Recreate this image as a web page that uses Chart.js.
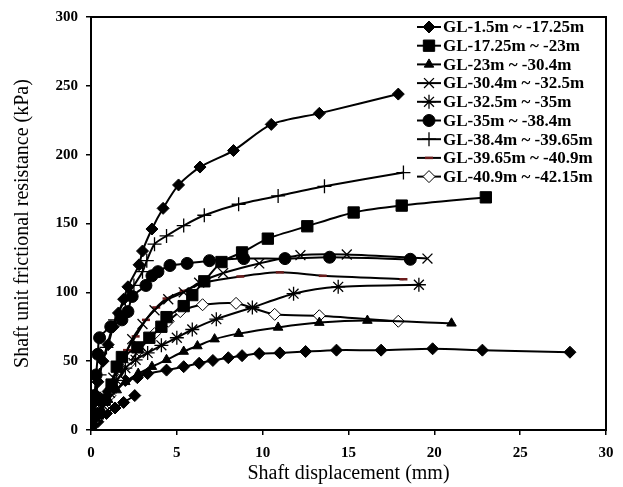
<!DOCTYPE html>
<html>
<head>
<meta charset="utf-8">
<script src="https://cdn.jsdelivr.net/npm/chart.js@4/dist/chart.umd.min.js"></script>
<style>
  html, body { margin: 0; padding: 0; background: #fff; }
  #wrap { width: 623px; height: 487px; }
</style>
</head>
<body>
<div id="wrap"><canvas id="chartCanvas" width="623" height="487"></canvas></div>
<script>
// legend names
const seriesNames = [
  'GL-1.5m ~ -17.25m',
  'GL-17.25m ~ -23m',
  'GL-23m ~ -30.4m',
  'GL-30.4m ~ -32.5m',
  'GL-32.5m ~ -35m',
  'GL-35m ~ -38.4m',
  'GL-38.4m ~ -39.65m',
  'GL-39.65m ~ -40.9m',
  'GL-40.9m ~ -42.15m'
];

// displacement (mm) / resistance (kPa) per series
const disp1 = [0, 0.2, 0.4, 0.7, 1.0, 1.3, 1.6, 1.9, 2.15, 2.8, 3.0, 3.55, 4.2, 5.1, 6.35, 8.3, 10.5, 13.3, 17.9];
const res1  = [5, 20, 35, 50, 62, 75, 85, 95, 104, 120, 130, 146, 161, 178, 191, 203, 222, 230, 244];

const disp2 = [0, 0.4, 0.8, 1.2, 1.5, 1.8, 2.7, 3.4, 4.1, 4.4, 5.4, 5.9, 6.6, 7.6, 8.8, 10.3, 12.6, 15.3, 18.1, 23.0];
const res2  = [3, 12, 22, 33, 46, 53, 60, 67, 75, 82, 90, 98, 108, 122, 129, 139, 148, 158, 163, 169];

const disp3 = [0, 0.3, 0.6, 1.0, 1.5, 2.0, 2.75, 3.55, 4.4, 5.4, 6.2, 7.2, 8.6, 10.9, 13.3, 16.1, 21.0];
const res3  = [2, 8, 15, 22, 29, 35, 41, 46, 51, 57, 61, 66, 70, 74.5, 78, 79.5, 77.5];

const disp4 = [0, 0.4, 0.8, 1.3, 1.9, 2.4, 3.0, 3.7, 4.5, 5.4, 6.3, 7.7, 9.8, 12.2, 14.9, 19.6];
const res4  = [3, 12, 24, 38, 52, 66, 77, 87, 95, 100, 107, 114, 121, 127, 127.5, 124.5];

const disp5 = [0, 0.3, 0.7, 1.1, 1.5, 2.0, 2.6, 3.3, 4.1, 5.0, 5.9, 7.3, 9.4, 11.8, 14.4, 19.1];
const res5  = [3, 10, 18, 27, 36, 45, 51, 56, 61.5, 67, 73, 80.5, 89, 99, 104, 105.5];

const disp6 = [0, 0.2, 0.3, 0.4, 0.5, 1.15, 1.8, 2.15, 2.4, 3.2, 3.55, 3.9, 4.6, 5.6, 6.9, 8.9, 11.3, 13.9, 18.6];
const res6  = [5, 25, 40, 55, 67, 75, 80, 86, 97, 105, 112, 115, 119.5, 121, 123, 124.5, 124.5, 125.5, 124];

const disp7 = [0, 0.2, 0.5, 0.9, 1.4, 2.0, 2.5, 3.0, 3.25, 3.7, 4.4, 5.4, 6.6, 8.6, 10.9, 13.6, 18.2];
const res7  = [5, 20, 40, 60, 80, 95, 105, 115, 123, 135, 141, 148.5, 156, 164, 170, 177, 187];

const disp8 = [0, 0.3, 0.7, 1.1, 1.6, 2.1, 2.6, 3.2, 3.8, 4.4, 5.4, 6.6, 8.7, 11.0, 13.5, 18.2];
const res8  = [2, 10, 20, 32, 45, 58, 68, 80, 89, 95.5, 101, 107, 111.5, 114.5, 112, 109.5];

const disp9 = [0, 0.3, 0.7, 1.1, 1.6, 2.2, 2.8, 3.7, 4.5, 5.2, 6.5, 8.45, 10.7, 13.3, 17.9];
const res9  = [2, 8, 16, 25, 36, 48, 58, 70, 79, 86, 91, 92, 84, 83, 79];

// two more curves drawn with diamonds but not listed in the legend
const disp10 = [0, 0.3, 0.6, 1.0, 1.5, 2.0, 2.7, 3.3, 4.4, 5.4, 6.3, 7.1, 8.0, 8.8, 9.8, 11.0, 12.5, 14.3, 16.9, 19.9, 22.8, 27.9];
const res10  = [0, 10, 20, 28, 33, 36, 38, 41, 43.5, 46, 48.5, 50.5, 52.5, 54, 55.5, 56, 57, 58, 58, 59, 58, 56.5];

const disp11 = [0, 0.4, 0.9, 1.4, 1.9, 2.55];
const res11  = [0, 6, 12, 16, 20, 25];

const pts = (xs, ys) => xs.map((x, i) => ({ x, y: ys[i] }));

const serif = "'Liberation Serif', 'Times New Roman', serif";

const mk = (label, xs, ys, style, radius, fill, extra) => Object.assign({
  label,
  data: pts(xs, ys),
  borderColor: '#000',
  borderWidth: 2,
  pointStyle: style,
  pointRadius: radius,
  pointHoverRadius: radius,
  pointBackgroundColor: fill,
  pointBorderColor: '#000',
  pointBorderWidth: 1,
  tension: 0.25,
  fill: false
}, extra || {});

const datasets = [
  mk(seriesNames[0], disp1, res1, 'rectRot', 6, '#000'),
  mk(seriesNames[1], disp2, res2, 'rect', 8, '#000'),
  mk(seriesNames[2], disp3, res3, 'triangle', 5.5, '#000'),
  mk(seriesNames[3], disp4, res4, 'crossRot', 7, '#000', { pointBorderWidth: 1.3 }),
  mk(seriesNames[4], disp5, res5, 'star', 7, '#000', { pointBorderWidth: 1.3 }),
  mk(seriesNames[5], disp6, res6, 'circle', 6, '#000'),
  mk(seriesNames[6], disp7, res7, 'cross', 7, '#000', { pointBorderWidth: 1.3 }),
  mk(seriesNames[7], disp8, res8, 'line', 4, '#6b1c1c', { pointBorderColor: '#6b1c1c', pointBorderWidth: 2.5 }),
  mk(seriesNames[8], disp9, res9, 'rectRot', 6, '#fff'),
  mk('', disp10, res10, 'rectRot', 6, '#000', { hideLegend: true }),
  mk('', disp11, res11, 'rectRot', 6, '#000', { hideLegend: true })
];

// box around the plot + legend inside the plot
const framePlugin = {
  id: 'frame',
  afterDraw(chart) {
    const { ctx, chartArea: a } = chart;
    ctx.save();
    ctx.strokeStyle = '#000';
    ctx.lineWidth = 2;
    ctx.strokeRect(a.left, a.top, a.right - a.left, a.bottom - a.top);

    let row = 0;
    chart.data.datasets.forEach(ds => {
      if (ds.hideLegend) return;
      const y = 27 + row * 18.7;
      ctx.strokeStyle = '#000';
      ctx.lineWidth = 2;
      ctx.beginPath();
      ctx.moveTo(417, y);
      ctx.lineTo(441, y);
      ctx.stroke();
      ctx.fillStyle = ds.pointBackgroundColor;
      ctx.strokeStyle = ds.pointBorderColor;
      ctx.lineWidth = ds.pointBorderWidth;
      Chart.helpers.drawPoint(ctx, {
        pointStyle: ds.pointStyle,
        radius: ds.pointRadius,
        rotation: 0,
        borderWidth: ds.pointBorderWidth
      }, 429, y);
      ctx.fillStyle = '#000';
      ctx.font = 'bold 17px ' + serif;
      ctx.textBaseline = 'middle';
      ctx.textAlign = 'left';
      ctx.fillText(ds.label, 443, y + 1);
      row++;
    });
    ctx.restore();
  }
};

const ctx = document.getElementById('chartCanvas').getContext('2d');
new Chart(ctx, {
  type: 'line',
  data: { datasets },
  options: {
    responsive: false,
    animation: false,
    layout: { padding: { left: 0, top: 16, right: 17, bottom: 0 } },
    plugins: {
      legend: { display: false },
      tooltip: { enabled: false }
    },
    scales: {
      x: {
        type: 'linear',
        min: 0,
        max: 30,
        afterFit: s => { s.height = 57; },
        ticks: { stepSize: 5, color: '#000', padding: 9, font: { family: serif, size: 15, weight: 'bold' } },
        grid: { display: true, drawOnChartArea: false, drawTicks: true, tickLength: 5, color: '#000', lineWidth: 1.5 },
        border: { display: true, color: '#000', width: 2 },
        title: { display: true, text: 'Shaft displacement (mm)', color: '#000', padding: { top: 0, bottom: 1 }, font: { family: serif, size: 20 } }
      },
      y: {
        min: 0,
        max: 300,
        afterFit: s => { s.width = 91; },
        ticks: { stepSize: 50, color: '#000', padding: 8, font: { family: serif, size: 15, weight: 'bold' } },
        grid: { display: true, drawOnChartArea: false, drawTicks: true, tickLength: 5, color: '#000', lineWidth: 1.5 },
        border: { display: true, color: '#000', width: 2 },
        title: { display: true, text: 'Shaft unit frictional resistance (kPa)', color: '#000', padding: { top: 11, bottom: 0 }, font: { family: serif, size: 20 } }
      }
    }
  },
  plugins: [framePlugin]
});
</script>
</body>
</html>
